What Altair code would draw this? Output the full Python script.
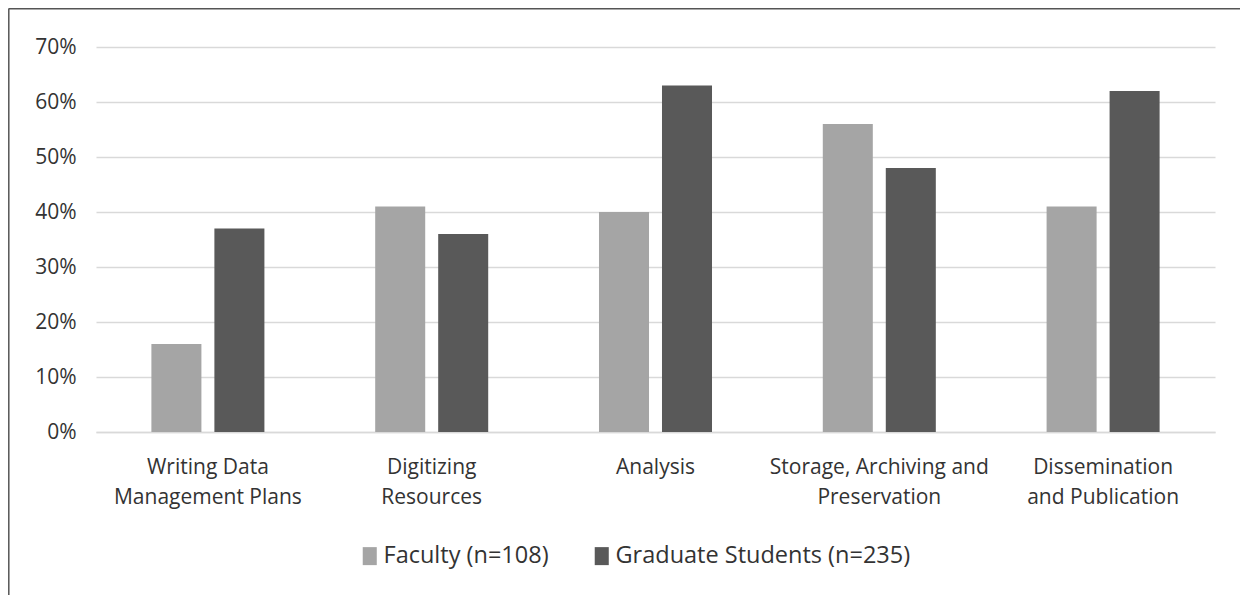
import altair as alt
import pandas as pd

categories = [
    "Writing Data|Management Plans",
    "Digitizing|Resources",
    "Analysis",
    "Storage, Archiving and|Preservation",
    "Dissemination|and Publication",
]
series = ["Faculty (n=108)", "Graduate Students (n=235)"]
faculty = [16, 41, 40, 56, 41]
graduate = [37, 36, 63, 48, 62]
colors = ["#a5a5a5", "#595959"]
y_ticks = [0, 0.1, 0.2, 0.3, 0.4, 0.5, 0.6, 0.7]

rows = []
for c, f, g in zip(categories, faculty, graduate):
    rows.append({"category": c, "group": series[0], "value": f / 100})
    rows.append({"category": c, "group": series[1], "value": g / 100})
df = pd.DataFrame(rows)

FONT = "Open Sans"
TXT = "#333333"

bars = alt.Chart(df).mark_bar().encode(
    x=alt.X(
        "category:N",
        sort=categories,
        scale=alt.Scale(paddingInner=0.495, paddingOuter=0.2475),
        axis=alt.Axis(
            title=None,
            labelAngle=0,
            labelExpr="split(datum.label, '|')",
            labelFont=FONT,
            labelFontSize=21,
            labelColor=TXT,
            labelLineHeight=30,
            labelPadding=24,
            labelBaseline="top",
            labelLimit=0,
            ticks=False,
            domain=True,
            domainColor="#d9d9d9",
            domainWidth=1.3,
            grid=False,
        ),
    ),
    xOffset=alt.XOffset("group:N", sort=series, scale=alt.Scale(paddingInner=0.206)),
    y=alt.Y(
        "value:Q",
        scale=alt.Scale(domain=[0, 0.7], nice=False),
        axis=alt.Axis(
            title=None,
            format=".0%",
            values=y_ticks,
            labelFont=FONT,
            labelFontSize=21,
            labelColor=TXT,
            labelPadding=20,
            ticks=False,
            domain=False,
            grid=True,
            gridColor="#d9d9d9",
            gridWidth=1.3,
        ),
    ),
    color=alt.Color(
        "group:N",
        sort=series,
        scale=alt.Scale(domain=series, range=colors),
        legend=alt.Legend(
            title=None,
            orient="none",
            legendX=262,
            legendY=497,
            direction="horizontal",
            symbolType="M-0.78,-1H0.78V1H-0.78Z",
            symbolSize=324,
            symbolStrokeWidth=0,
            labelFont=FONT,
            labelFontSize=23.5,
            labelColor=TXT,
            labelOffset=2,
            labelLimit=0,
            columnPadding=41,
        ),
    ),
)

border_data = alt.Data(values=[{"k": 1}])
top_border = alt.Chart(border_data).mark_rule(color="#555555", strokeWidth=1.5).encode(
    x=alt.value(-87.5), x2=alt.value(1160), y=alt.value(-38.2)
)
left_border = alt.Chart(border_data).mark_rule(color="#555555", strokeWidth=1.5).encode(
    x=alt.value(-87.2), y=alt.value(-38.2), y2=alt.value(560)
)

chart = alt.layer(bars, top_border, left_border).properties(
    width=1119,
    height=385,
    autosize=alt.AutoSizeParams(type="none"),
    padding={"left": 88, "top": 39, "right": 25, "bottom": 163},
    background="white",
).configure_view(stroke=None)

chart.save("out.html", embed_options={"renderer": "svg", "actions": False})
